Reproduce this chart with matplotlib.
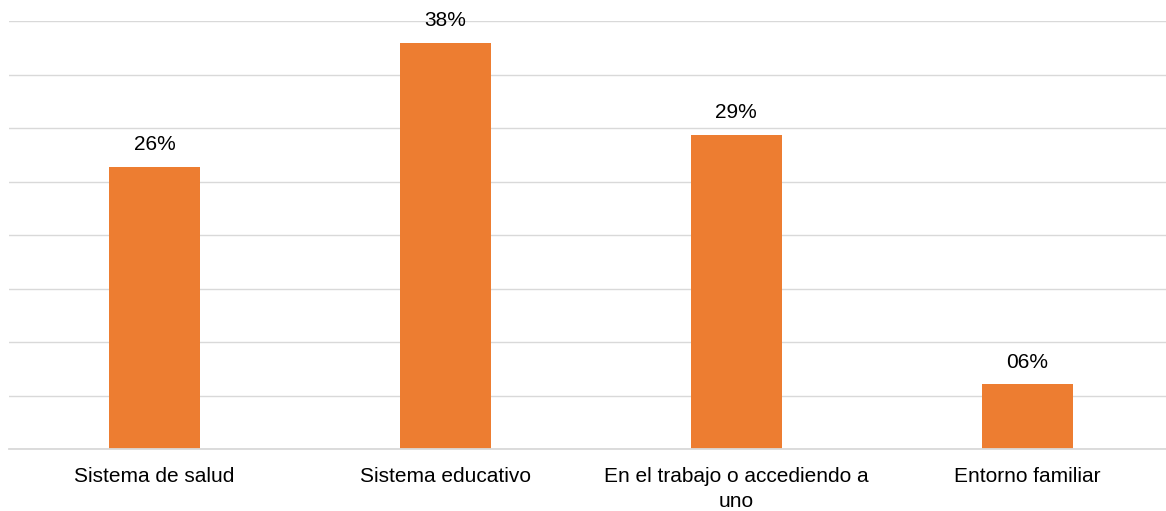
import numpy as np
import matplotlib.pyplot as plt

# datos
categorias = ["Sistema de salud", "Sistema educativo",
              "En el trabajo o accediendo a\nuno", "Entorno familiar"]
valores = [0.264, 0.380, 0.294, 0.061]
etiquetas = ["26%", "38%", "29%", "06%"]

plt.rcParams['font.family'] = ['Liberation Sans', 'DejaVu Sans']

fig = plt.figure(figsize=(11.66, 5.11), dpi=100)
ax = fig.add_axes([9/1166, 61.7/511, 1 - 9/1166, (449.3 - 21.5)/511])

x = np.arange(len(categorias))
barras = ax.bar(x, valores, width=0.313, color='#ED7D31', zorder=3)

# etiquetas de datos
for b, txt in zip(barras, etiquetas):
    ax.annotate(txt, (b.get_x() + b.get_width()/2, b.get_height()),
                xytext=(0, 9), textcoords='offset points',
                ha='center', va='bottom', fontsize=15, color='#000000',
                annotation_clip=False)

ax.set_xlim(-0.5, 3.477)
ax.set_ylim(0, 0.40)
ax.set_yticks(np.arange(0, 0.401, 0.05))
ax.set_yticklabels([])
ax.grid(axis='y', color='#D9D9D9', linewidth=1.0, zorder=0)
ax.axhline(0, color='#D9D9D9', linewidth=1.3, zorder=4, clip_on=False)
ax.tick_params(axis='y', length=0)
ax.set_xticks(x)
ax.set_xticklabels(categorias, fontsize=15, color='#000000', linespacing=1.4)
ax.tick_params(axis='x', length=0, pad=13)
for s in ax.spines.values():
    s.set_visible(False)

fig.savefig('out.png', dpi=100)
